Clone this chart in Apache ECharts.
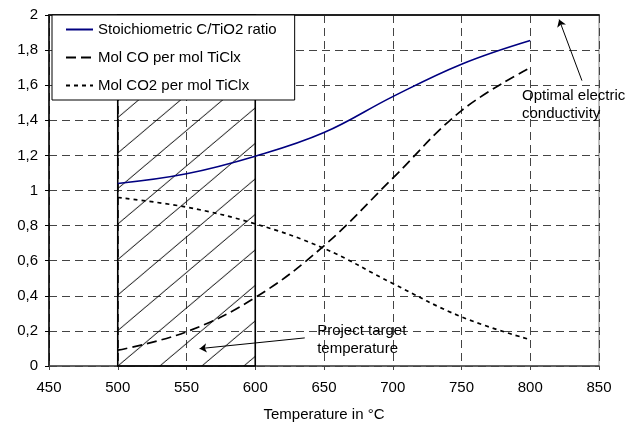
<!DOCTYPE html>
<html>
<head>
<meta charset="utf-8">
<script src="https://cdn.jsdelivr.net/npm/echarts@6/dist/echarts.min.js"></script>
<style>
html, body { margin: 0; padding: 0; background: #fff; }
#main { width: 643px; height: 427px; }
</style>
</head>
<body>
<div id="main"></div>
<script>
// temperature steps (°C)
var temps = [500, 550, 600, 650, 700, 750, 800];
var ratioCTiO2 = [1.04, 1.095, 1.195, 1.33, 1.535, 1.72, 1.855];
var molCO = [0.09, 0.195, 0.39, 0.685, 1.07, 1.455, 1.70];
var molCO2 = [0.96, 0.905, 0.81, 0.67, 0.47, 0.28, 0.15];
var seriesNames = ['Stoichiometric C/TiO2 ratio', 'Mol CO per mol TiClx', 'Mol CO2 per mol TiClx'];

// hatched band = project target temperature range
var targetRange = [500, 600];

// annotations, anchored in data units
var optimalText = ['Optimal electric', 'conductivity'];
var optimalTextAt = [794, 1.49];
var optimalArrow = [[837.6, 1.626], [821, 1.974]];
var projectText = ['Project target', 'temperature'];
var projectTextAt = [645, 0.148];
var projectArrow = [[636, 0.16], [559.5, 0.099]];

var FONT = 'Liberation Sans, Arial, sans-serif';

function pairs(xs, ys) {
    return xs.map(function (x, i) { return [x, ys[i]]; });
}

// diagonal hatch tile
function hatchTile() {
    var c = document.createElement('canvas');
    c.width = 84; c.height = 71;
    var ctx = c.getContext('2d');
    ctx.strokeStyle = '#000';
    ctx.lineWidth = 1;
    for (var j = -1; j <= 5; j++) {
        ctx.beginPath();
        ctx.moveTo(0, 35.5 * j);
        ctx.lineTo(84, 35.5 * j - 71);
        ctx.stroke();
    }
    return c;
}

var dom = document.getElementById('main');
var myChart = echarts.init(dom, null, { renderer: 'canvas' });

var option = {
    animation: false,
    textStyle: { fontFamily: FONT },
    grid: {
        left: 49, right: 44, top: 15, bottom: 57,
        show: true, borderColor: '#808080', borderWidth: 1
    },
    legend: {
        orient: 'vertical',
        left: 52, top: 15,
        padding: [7, 18, 7, 13],
        itemGap: 13,
        itemWidth: 27,
        itemHeight: 14,
        backgroundColor: '#fff',
        borderColor: '#000',
        borderWidth: 1,
        borderRadius: 0,
        itemStyle: { opacity: 0 },
        textStyle: { fontSize: 15, color: '#000', fontFamily: FONT },
        data: seriesNames
    },
    xAxis: [{
        type: 'value',
        min: 450, max: 850, interval: 50,
        name: 'Temperature in °C',
        nameLocation: 'middle',
        nameGap: 41,
        nameTextStyle: { fontSize: 15, color: '#000', fontFamily: FONT },
        axisLine: { lineStyle: { color: '#444', width: 1.5 } },
        axisTick: { length: 4, lineStyle: { color: '#444' } },
        axisLabel: { fontSize: 15, color: '#000', margin: 14, fontFamily: FONT },
        splitLine: { show: true, lineStyle: { color: '#444', type: [8, 5], width: 1 } }
    }, {
        type: 'value',
        position: 'top',
        min: 450, max: 850,
        axisLine: { show: true, lineStyle: { color: '#222', width: 2 } },
        axisTick: { show: false },
        axisLabel: { show: false },
        splitLine: { show: false }
    }],
    yAxis: {
        type: 'value',
        min: 0, max: 2, interval: 0.2,
        axisLine: { show: true, lineStyle: { color: '#000', width: 1.5 } },
        axisTick: { show: true, length: 4, lineStyle: { color: '#000' } },
        axisLabel: {
            fontSize: 15, color: '#000', margin: 11, fontFamily: FONT,
            formatter: function (v) { return String(+v.toFixed(1)).replace('.', ','); }
        },
        splitLine: { show: true, lineStyle: { color: '#444', type: [8, 5], width: 1 } }
    },
    series: [{
        name: seriesNames[0],
        type: 'line',
        smooth: 0.4,
        symbol: 'none',
        z: 5,
        lineStyle: { color: '#000080', width: 1.6 },
        itemStyle: { color: '#000080' },
        data: pairs(temps, ratioCTiO2),
        markArea: {
            silent: true,
            itemStyle: {
                color: { image: hatchTile(), repeat: 'repeat' },
                borderColor: '#000',
                borderWidth: 1.6
            },
            data: [[{ xAxis: targetRange[0], yAxis: 0 }, { xAxis: targetRange[1], yAxis: 2 }]]
        }
    }, {
        name: seriesNames[1],
        type: 'line',
        smooth: 0.4,
        symbol: 'none',
        z: 5,
        lineStyle: { color: '#000', width: 1.7, type: [10, 5] },
        itemStyle: { color: '#000' },
        data: pairs(temps, molCO)
    }, {
        name: seriesNames[2],
        type: 'line',
        smooth: 0.4,
        symbol: 'none',
        z: 5,
        lineStyle: { color: '#000', width: 1.7, type: [4, 4] },
        itemStyle: { color: '#000' },
        data: pairs(temps, molCO2),
        markLine: {
            silent: true,
            symbol: ['none', 'arrow'],
            symbolSize: 7,
            label: { show: false },
            lineStyle: { color: '#000', width: 1, type: 'solid' },
            itemStyle: { color: '#000' },
            data: [
                [{ coord: optimalArrow[0] }, { coord: optimalArrow[1] }],
                [{ coord: projectArrow[0] }, { coord: projectArrow[1] }]
            ]
        }
    }]
};

myChart.setOption(option, true);

// place notes and align the hatch to the band's lower-left corner
var corner = myChart.convertToPixel({ gridIndex: 0 }, [targetRange[0], 0]);
var pOpt = myChart.convertToPixel({ gridIndex: 0 }, optimalTextAt);
var pProj = myChart.convertToPixel({ gridIndex: 0 }, projectTextAt);

function note(p, lines) {
    return {
        type: 'text',
        x: p[0], y: p[1],
        z: 10,
        style: {
            text: lines.join('\n'),
            font: '15px ' + FONT,
            fill: '#000',
            lineHeight: 18,
            align: 'left',
            verticalAlign: 'middle'
        }
    };
}

myChart.setOption({
    series: [{
        name: seriesNames[0],
        markArea: {
            itemStyle: {
                color: { image: hatchTile(), repeat: 'repeat', x: corner[0], y: corner[1] }
            }
        }
    }],
    graphic: [note(pOpt, optimalText), note(pProj, projectText)]
});
</script>
</body>
</html>
